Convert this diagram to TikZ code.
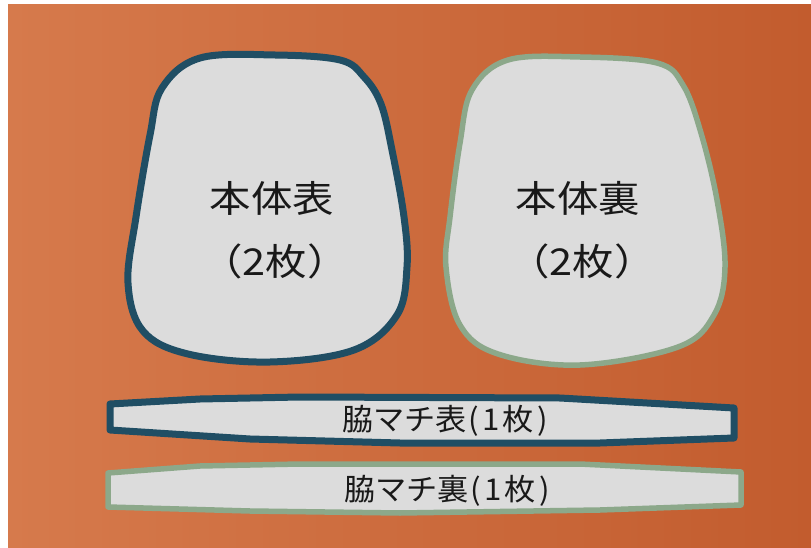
\documentclass[tikz,border=0pt]{standalone}
\usepackage{fontspec}
\newfontfamily\jp{Noto Sans CJK JP}
\definecolor{bgL}{RGB}{214,122,76}
\definecolor{bgR}{RGB}{194,92,46}
\definecolor{navy}{RGB}{32,78,100}
\definecolor{sage}{RGB}{140,168,138}
\definecolor{paper}{RGB}{220,220,220}
\definecolor{ink}{RGB}{25,25,25}
\newcommand{\kk}[1]{\hspace{#1pt}}
\begin{document}
\begin{tikzpicture}[x=1pt,y=-1pt,
  piece/.style={fill=paper,line join=round},
  front/.style={piece,draw=navy,line width=7pt},
  back/.style={piece,draw=sage,line width=5.5pt},
  bigtxt/.style={font=\jp\fontsize{37}{40}\selectfont,xscale=1.12,text=ink,inner sep=0pt},
  striptxt/.style={font=\jp\fontsize{30}{32}\selectfont,text=ink,inner sep=0pt,xscale=1.04}]
\useasboundingbox (0,0) rectangle (811,548);
\fill[white] (0,0) rectangle (811,548);
\shade[left color=bgL,right color=bgR] (8,5) rectangle (811,548);
% body front
\draw[front] plot[smooth cycle,tension=0.6] coordinates {
 (200,58) (275,55) (340,60) (364,77) (381,104) (392,150) (404,217) (407,267)
 (397,315) (354,350) (270,362) (188,354) (143,331) (128,283) (136,217) (150,135) (162,88)};
% body back
\draw[back] plot[smooth cycle,tension=0.6] coordinates {
 (508,60) (580,57) (657,63) (683,85) (701,133) (717,200) (725,267)
 (714,315) (678,347) (580,365) (498,354) (460,325) (446,267) (450,217) (460,143) (472,90)};
% gusset front
\draw[front] (110,404) -- (200,399) -- (300,397) -- (560,398) -- (734,408) -- (734,438)
  -- (600,443) -- (400,443) -- (250,439) -- (110,430) -- cycle;
% gusset back
\draw[back] (108,473) -- (200,466) -- (300,464) -- (580,464) -- (741,472) -- (741,505)
  -- (600,510) -- (400,513) -- (250,511) -- (108,507) -- cycle;
\node[bigtxt] (f1) at (272,198) {本体表};
\node[bigtxt] (f2) at (275,261) {（2枚）};
\node[bigtxt] (b1) at (578,198) {本体裏};
\node[bigtxt] (b2) at (582,261) {（2枚）};
\node[striptxt] (g1) at (445,421) {脇マチ表\kk{2}(\kk{3}1\kk{2}枚\kk{4})};
\node[striptxt] (g2) at (447,491) {脇マチ裏\kk{2}(\kk{3}1\kk{2}枚\kk{4})};
\end{tikzpicture}
\end{document}
